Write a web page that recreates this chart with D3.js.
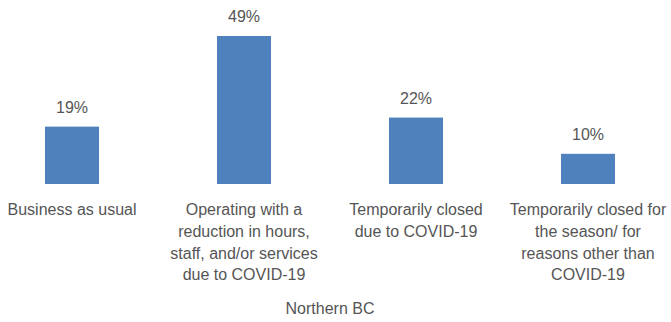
<!DOCTYPE html>
<html>
<head>
<meta charset="utf-8">
<script src="https://cdn.jsdelivr.net/npm/d3@7/dist/d3.min.js"></script>
<style>
  html, body { margin: 0; padding: 0; background: #ffffff; }
  svg { display: block; }
  text { font-family: "Liberation Sans", Arial, sans-serif; fill: #555555; }
</style>
</head>
<body>
<svg id="chart" width="671" height="322"></svg>
<script>
// Business status, Northern BC (share of respondents, %)
const categories = ["usual", "reduced", "closedCovid", "closedOther"];
const categoryLabels = [
  ["Business as usual"],
  ["Operating with a", "reduction in hours,", "staff, and/or services", "due to COVID-19"],
  ["Temporarily closed", "due to COVID-19"],
  ["Temporarily closed for", "the season/ for", "reasons other than", "COVID-19"]
];
const values = [19, 49, 22, 10];
const axisTitle = "Northern BC";

const svg = d3.select("#chart");
const baseY = 184;
const fontSize = "16px";

const x = d3.scaleBand()
  .domain(categories)
  .range([-14, 674])
  .paddingInner(0.686)
  .paddingOuter(0.343);

const y = d3.scaleLinear()
  .domain([0, 50])
  .range([baseY, baseY - 151]);

// Bars
svg.append("g")
  .selectAll("rect")
  .data(values)
  .join("rect")
  .attr("x", (d, i) => x(categories[i]))
  .attr("y", d => y(d))
  .attr("width", x.bandwidth())
  .attr("height", d => y(0) - y(d))
  .attr("fill", "#4f81bd");

// Value labels above bars
svg.append("g")
  .selectAll("text")
  .data(values)
  .join("text")
  .attr("x", (d, i) => x(categories[i]) + x.bandwidth() / 2)
  .attr("y", d => y(d) - 14)
  .attr("text-anchor", "middle")
  .style("font-size", fontSize)
  .text(d => d + "%");

// Category labels (wrapped lines)
const lineH = 21.8;
const catG = svg.append("g")
  .selectAll("text")
  .data(categoryLabels)
  .join("text")
  .attr("text-anchor", "middle")
  .style("font-size", fontSize)
  .attr("x", (d, i) => x(categories[i]) + x.bandwidth() / 2)
  .attr("y", 215);

catG.selectAll("tspan")
  .data(d => d)
  .join("tspan")
  .attr("x", function() { return d3.select(this.parentNode).attr("x"); })
  .attr("dy", (d, i) => i === 0 ? 0 : lineH)
  .text(d => d);

// Axis title
svg.append("text")
  .attr("x", (x.range()[0] + x.range()[1]) / 2)
  .attr("y", 314)
  .attr("text-anchor", "middle")
  .style("font-size", fontSize)
  .text(axisTitle);
</script>
</body>
</html>
